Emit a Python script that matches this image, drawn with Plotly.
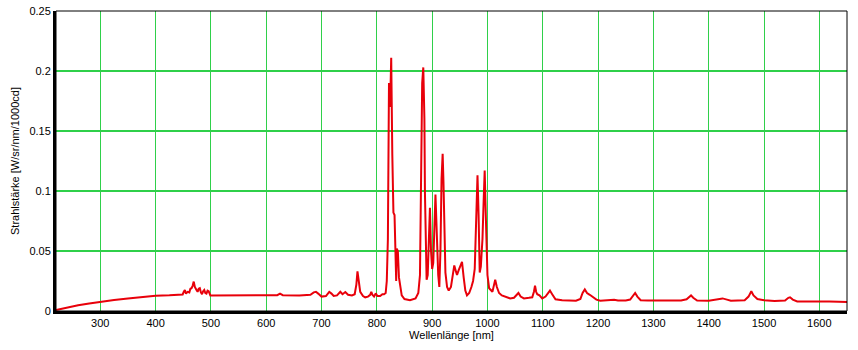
import plotly.graph_objects as go

wavelength_nm = [
    220, 240, 260, 280, 300, 325, 350, 375, 400, 425, 445, 449, 451, 453, 455, 458, 461, 463, 465, 467,
    469, 471, 474, 476, 478, 480, 482, 484, 486, 488, 490, 492, 494, 496, 499, 520, 560, 600, 620, 625,
    630, 660, 680, 686, 690, 694, 700, 708, 714, 718, 722, 728, 734, 738, 743, 748, 755, 760, 763, 765,
    767, 770, 775, 779, 784, 788, 790, 792, 795, 798, 801, 806, 810, 813, 816, 818, 820, 822, 824, 826,
    828, 830, 832, 833, 835, 836, 838, 840, 842, 845, 850, 860, 870, 875, 878, 880, 882, 884, 886, 887,
    888.5, 890, 892, 894, 896, 898, 900, 902, 904, 906, 908, 909, 911, 913, 915, 917, 919, 920.5, 922, 924,
    927, 930, 934, 937, 940, 943, 945, 948, 951, 954, 957, 960, 963, 967, 971, 974, 977, 979, 982, 984,
    986, 988, 991, 993, 995, 997, 998, 1000, 1003, 1006, 1009, 1012, 1014, 1017, 1021, 1026, 1032, 1041, 1048, 1052,
    1056, 1060, 1066, 1075, 1081, 1084, 1086, 1088, 1090, 1094, 1099, 1105, 1110, 1113, 1117, 1123, 1135, 1150, 1160, 1168,
    1172, 1176, 1180, 1185, 1190, 1197, 1204, 1215, 1222, 1229, 1236, 1250, 1258, 1263, 1267, 1271, 1277, 1290, 1320, 1350,
    1360, 1365, 1368, 1372, 1379, 1400, 1415, 1425, 1433, 1440, 1465, 1472, 1477, 1481, 1488, 1500, 1519, 1538, 1544, 1547,
    1552, 1560, 1590, 1605, 1612, 1618, 1635, 1650,
]
intensity = [
    0.0008, 0.003, 0.0048, 0.0063, 0.0077, 0.0092, 0.0105, 0.0117, 0.0127, 0.0131, 0.0134, 0.0138, 0.016, 0.0175, 0.0145, 0.016, 0.0155, 0.0185, 0.019, 0.021,
    0.0245, 0.02, 0.0175, 0.016, 0.0185, 0.019, 0.0155, 0.014, 0.0165, 0.0175, 0.015, 0.0145, 0.017, 0.0165, 0.013, 0.013, 0.013, 0.013, 0.0132, 0.0145,
    0.0132, 0.013, 0.0135, 0.0155, 0.016, 0.0145, 0.012, 0.0125, 0.016, 0.0145, 0.0125, 0.013, 0.016, 0.014, 0.0158, 0.0135, 0.013, 0.014, 0.022, 0.033,
    0.024, 0.016, 0.0125, 0.0114, 0.012, 0.0135, 0.016, 0.0135, 0.012, 0.0147, 0.0125, 0.0125, 0.014, 0.014, 0.015, 0.025, 0.06, 0.19, 0.17, 0.211,
    0.13, 0.082, 0.08, 0.05, 0.025, 0.052, 0.05, 0.028, 0.02, 0.013, 0.01, 0.009, 0.0105, 0.015, 0.03, 0.095, 0.19, 0.203, 0.16, 0.098,
    0.035, 0.026, 0.03, 0.07, 0.086, 0.05, 0.035, 0.04, 0.07, 0.097, 0.07, 0.054, 0.03, 0.02, 0.05, 0.11, 0.131, 0.107, 0.06, 0.032,
    0.02, 0.017, 0.02, 0.03, 0.038, 0.033, 0.03, 0.034, 0.038, 0.041, 0.028, 0.017, 0.013, 0.015, 0.02, 0.025, 0.035, 0.06, 0.113, 0.08,
    0.032, 0.037, 0.06, 0.09, 0.117, 0.08, 0.055, 0.03, 0.019, 0.0175, 0.016, 0.022, 0.026, 0.02, 0.015, 0.013, 0.012, 0.0105, 0.011, 0.013,
    0.015, 0.012, 0.0105, 0.011, 0.0114, 0.016, 0.021, 0.016, 0.014, 0.013, 0.0105, 0.012, 0.0155, 0.017, 0.014, 0.0097, 0.009, 0.0085, 0.0085, 0.01,
    0.015, 0.018, 0.015, 0.0135, 0.012, 0.0095, 0.0086, 0.0088, 0.0088, 0.0093, 0.0087, 0.0087, 0.0095, 0.013, 0.015, 0.012, 0.009, 0.0088, 0.0088, 0.0088,
    0.0098, 0.012, 0.013, 0.011, 0.0087, 0.0086, 0.0096, 0.0105, 0.0095, 0.0086, 0.009, 0.012, 0.0164, 0.013, 0.01, 0.009, 0.0083, 0.0087, 0.011, 0.0114,
    0.0095, 0.008, 0.0079, 0.008, 0.0085, 0.008, 0.0077, 0.0075,
]

x_ticks = [300, 400, 500, 600, 700, 800, 900, 1000, 1100, 1200, 1300, 1400, 1500, 1600]
y_ticks = [0, 0.05, 0.1, 0.15, 0.2, 0.25]
y_tick_labels = ["0", "0.05", "0.1", "0.15", "0.2", "0.25"]

grid_color = "#2fd04a"

fig = go.Figure()
fig.add_trace(go.Scatter(
    x=wavelength_nm, y=intensity, mode="lines",
    line=dict(color="#e8000a", width=2), showlegend=False, hoverinfo="x+y",
))

fig.update_layout(
    width=858, height=350,
    margin=dict(l=56, r=11, t=11, b=39, autoexpand=False),
    paper_bgcolor="white", plot_bgcolor="white",
    font=dict(family="Liberation Sans, Arial, sans-serif", size=11, color="black"),
    xaxis=dict(
        range=[220, 1650], tickvals=x_ticks, ticks="", automargin=False,
        showgrid=True, gridcolor=grid_color, gridwidth=1,
        zeroline=False, showline=True, linecolor="black", linewidth=3,
        title=dict(text="Wellenlänge [nm]", standoff=4, font=dict(size=11)),
        tickfont=dict(size=11),
    ),
    yaxis=dict(
        range=[0, 0.25], tickvals=y_ticks, ticktext=y_tick_labels, ticks="", automargin=False,
        showgrid=True, gridcolor=grid_color, gridwidth=1.5,
        zeroline=False, showline=True, linecolor="black", linewidth=3,
        title=dict(text="Strahlstärke [W/sr/nm/1000cd]", standoff=8, font=dict(size=11)),
        tickfont=dict(size=11),
    ),
    shapes=[dict(type="rect", xref="paper", yref="paper", x0=0, y0=0, x1=1, y1=1,
                 line=dict(color="black", width=1), layer="above")],
)

fig.write_html("out.html", config={"displayModeBar": False},
               post_script="document.body.style.margin='0';")
